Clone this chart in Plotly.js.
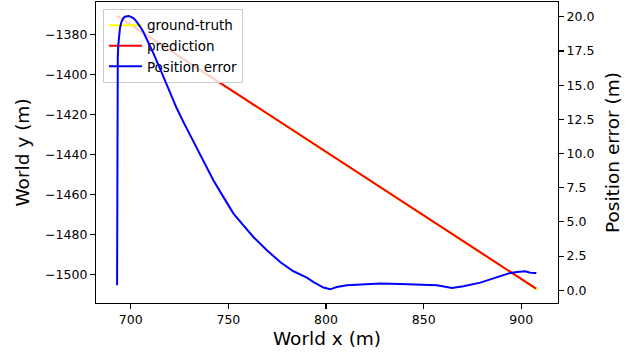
<!DOCTYPE html>
<html>
<head>
<meta charset="utf-8">
<script src="https://cdn.plot.ly/plotly-3.0.1.min.js"></script>
<style>html,body{margin:0;padding:0;background:#fff;}#chart{width:637px;height:356px;}</style>
</head>
<body>
<div id="chart"></div>
<script>
// Ground truth trajectory (world x, world y)
const gtX = [693.0, 908.3];
const gtY = [-1370.7, -1507.8];
// Prediction trajectory
const predX = [693.0, 907.6];
const predY = [-1370.7, -1507.2];
// Position error along x
const errX = [693.0, 693.0, 693.05, 693.1, 693.2, 693.35, 693.6, 694.0, 694.5, 695.3, 696.2, 697.0, 697.9, 698.8, 699.6, 700.5, 701.3, 702.6, 703.9, 705.1, 706.4, 709.0, 711.6, 714.1, 716.7, 720.1, 723.6, 727.0, 730.4, 735.5, 742.3, 747.4, 752.6, 757.7, 762.8, 769.7, 776.5, 783.3, 790.2, 793.6, 798.7, 802.1, 805.5, 810.7, 817.5, 827.7, 838.0, 848.2, 856.8, 864.5, 870.4, 879.0, 887.5, 894.4, 897.8, 902.0, 904.6, 907.7];
const errY = [0.37, 5.0, 10.0, 14.0, 15.8, 17.0, 17.9, 18.7, 19.2, 19.65, 19.9, 20.0, 20.04, 20.05, 20.03, 19.98, 19.9, 19.72, 19.5, 19.22, 18.9, 18.15, 17.32, 16.5, 15.6, 14.45, 13.29, 12.3, 11.34, 10.0, 8.05, 6.83, 5.61, 4.75, 3.9, 2.93, 2.07, 1.39, 0.93, 0.6, 0.2, 0.07, 0.24, 0.37, 0.42, 0.49, 0.46, 0.44, 0.37, 0.17, 0.29, 0.56, 0.97, 1.27, 1.34, 1.39, 1.29, 1.27];

const xTicks = [700, 750, 800, 850, 900];
const yTicks = [-1380, -1400, -1420, -1440, -1460, -1480, -1500];
const y2Ticks = [0, 2.5, 5, 7.5, 10, 12.5, 15, 17.5, 20];

const font = 'DejaVu Sans, sans-serif';

const traces = [
  {x: gtX, y: gtY, mode: 'lines', name: 'ground-truth', line: {color: '#ffff00', width: 2}, xaxis: 'x', yaxis: 'y'},
  {x: predX, y: predY, mode: 'lines', name: 'prediction', line: {color: '#ff0000', width: 2}, xaxis: 'x', yaxis: 'y'},
  {x: errX, y: errY, mode: 'lines', name: 'Position error', line: {color: '#0000ff', width: 2}, xaxis: 'x', yaxis: 'y2'}
];

const axisCommon = {
  showgrid: false, zeroline: false, showline: true, linecolor: '#000', linewidth: 1.1,
  ticks: 'outside', ticklen: 5, tickwidth: 1.1, tickcolor: '#000',
  tickfont: {family: font, size: 12.5, color: '#000'}
};

const layout = {
  width: 637, height: 356,
  margin: {l: 96, r: 79, t: 2, b: 53},
  paper_bgcolor: '#fff', plot_bgcolor: '#fff',
  font: {family: font, color: '#000'},
  showlegend: true,
  legend: {
    x: 0.015, y: 0.977, xanchor: 'left', yanchor: 'top',
    bgcolor: 'rgba(255,255,255,0.8)', bordercolor: '#cccccc', borderwidth: 1,
    font: {family: font, size: 13.5, color: '#000'},
    tracegroupgap: 0, itemwidth: 33
  },
  xaxis: Object.assign({}, axisCommon, {
    range: [682.2, 918.8], tickvals: xTicks, ticktext: xTicks.map(String), mirror: true,
    title: {text: 'World x (m)', font: {family: font, size: 18.5, color: '#000'}, standoff: 6}
  }),
  yaxis: Object.assign({}, axisCommon, {
    range: [-1514.4, -1363.8], tickvals: yTicks, ticktext: yTicks.map(v => '\u2212' + Math.abs(v)),
    title: {text: 'World y (m)', font: {family: font, size: 18.5, color: '#000'}, standoff: 10}
  }),
  yaxis2: Object.assign({}, axisCommon, {
    range: [-0.93, 21.08], overlaying: 'y', side: 'right', anchor: 'x',
    tickvals: y2Ticks, ticktext: y2Ticks.map(v => v.toFixed(1)),
    title: {text: 'Position error (m)', font: {family: font, size: 18.5, color: '#000'}, standoff: 12}
  })
};

Plotly.newPlot('chart', traces, layout, {displayModeBar: false, staticPlot: true}).then(function (gd) {
  // The twin axis (position error) is drawn above the legend, as in the original figure.
  try {
    const svgs = gd.querySelectorAll('svg.main-svg');
    const topSvg = svgs[svgs.length - 1];
    const tr = gd.querySelectorAll('.cartesianlayer .scatterlayer .trace')[2];
    const m = tr.parentNode.getCTM();
    const g = document.createElementNS('http://www.w3.org/2000/svg', 'g');
    g.setAttribute('transform', 'matrix(' + [m.a, m.b, m.c, m.d, m.e, m.f].join(',') + ')');
    topSvg.appendChild(g);
    g.appendChild(tr);
  } catch (e) {}
});
</script>
</body>
</html>
